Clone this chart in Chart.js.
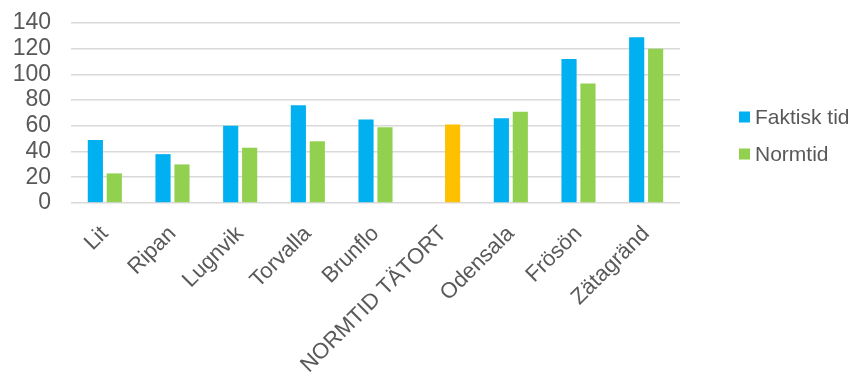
<!DOCTYPE html>
<html>
<head>
<meta charset="utf-8">
<script src="https://cdn.jsdelivr.net/npm/chart.js@4/dist/chart.umd.min.js"></script>
<style>
  html, body { margin: 0; padding: 0; background: #fff; }
  #wrap { width: 851px; height: 383px; }
</style>
</head>
<body>
<div id="wrap"><canvas id="chart"></canvas></div>
<script>
const categories = ['Lit', 'Ripan', 'Lugnvik', 'Torvalla', 'Brunflo', 'NORMTID TÄTORT', 'Odensala', 'Frösön', 'Zätagränd'];
const faktiskTid = [49, 38, 60, 76, 65, null, 66, 112, 129];
const normtid = [23, 30, 43, 48, 59, 61, 71, 93, 120];
const yTicks = [0, 20, 40, 60, 80, 100, 120, 140];

const BLUE = '#00B0F0';
const GREEN = '#92D050';
const ORANGE = '#FFC000';
const TEXT = '#595959';
const FONT = "'Liberation Sans', Arial, sans-serif";

// the "NORMTID TÄTORT" bar is orange
const normColors = categories.map(c => c === 'NORMTID TÄTORT' ? ORANGE : GREEN);

// legend drawn by hand so it sits where it does in the picture
const sideLegend = {
  id: 'sideLegend',
  afterDraw(chart) {
    const ctx = chart.ctx;
    const items = [
      { label: chart.data.datasets[0].label, color: BLUE, y: 117 },
      { label: chart.data.datasets[1].label, color: GREEN, y: 154 }
    ];
    ctx.save();
    ctx.font = '21px ' + FONT;
    ctx.textBaseline = 'middle';
    items.forEach(it => {
      ctx.fillStyle = it.color;
      ctx.fillRect(739, it.y - 5.5, 11, 11);
      ctx.fillStyle = TEXT;
      ctx.fillText(it.label, 755, it.y + 1);
    });
    ctx.restore();
  }
};

new Chart(document.getElementById('chart'), {
  type: 'bar',
  data: {
    labels: categories,
    datasets: [{
      label: 'Faktisk tid',
      data: faktiskTid,
      backgroundColor: BLUE,
      categoryPercentage: 0.56,
      barPercentage: 0.8
    }, {
      label: 'Normtid',
      data: normtid,
      backgroundColor: normColors,
      categoryPercentage: 0.56,
      barPercentage: 0.8
    }]
  },
  options: {
    responsive: true,
    maintainAspectRatio: false,
    animation: false,
    layout: { padding: { left: 12, right: 171, top: 23, bottom: 0 } },
    plugins: {
      legend: { display: false },
      tooltip: { enabled: false }
    },
    scales: {
      x: {
        grid: { display: false },
        border: { display: false },
        ticks: {
          color: TEXT,
          font: { family: FONT, size: 22 },
          maxRotation: 45,
          minRotation: 45,
          autoSkip: false,
          padding: 10
        },
        afterFit(scale) {
          scale.height = 180;
          scale.paddingLeft = 0;
          scale.paddingRight = 0;
        }
      },
      y: {
        min: 0,
        max: 140,
        afterBuildTicks(scale) { scale.ticks = yTicks.map(v => ({ value: v })); },
        grid: { color: '#d9d9d9', lineWidth: 1.6, drawTicks: false },
        border: { display: false },
        ticks: {
          color: TEXT,
          font: { family: FONT, size: 23 },
          padding: 20,
          autoSkip: false
        },
        afterFit(scale) {
          scale.width = 59;
          scale.paddingTop = 0;
          scale.paddingBottom = 0;
        }
      }
    }
  },
  plugins: [sideLegend]
});
</script>
</body>
</html>
